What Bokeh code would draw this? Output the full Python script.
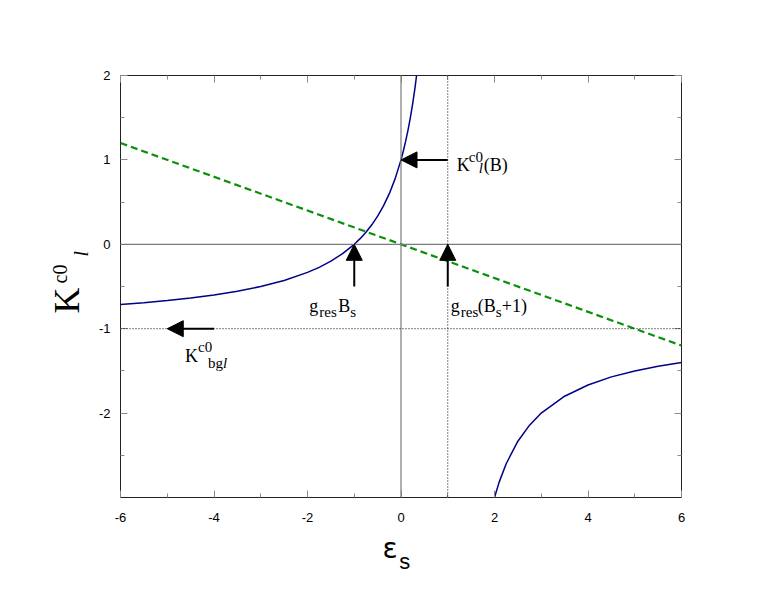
import math
from bokeh.plotting import figure
from bokeh.models import (ColumnDataSource, Arrow, NormalHead, Label, Span,
                          FixedTicker, LinearAxis, CustomJSTickFormatter, Range1d)
from bokeh.layouts import row, column
from bokeh.core.properties import value
from bokeh.embed import file_html
from bokeh.resources import INLINE

# ---------------- data ----------------
x_ticks = [-6, -4, -2, 0, 2, 4, 6]
x_minor = [-5, -3, -1, 1, 3, 5]
y_ticks = [-2, -1, 0, 1, 2]
y_minor = [-2.5, -1.5, -0.5, 0.5, 1.5]

# blue curve, left branch
left_x = [-6, -5.5, -5, -4.5, -4, -3.5, -3, -2.5, -2, -1.75, -1.5, -1.25, -1,
          -0.875, -0.75, -0.625, -0.5, -0.375, -0.25, -0.125, 0, 0.05, 0.1,
          0.15, 0.2, 0.25, 0.3, 0.333]
left_y = [-0.714, -0.692, -0.667, -0.636, -0.6, -0.556, -0.5, -0.429, -0.333,
          -0.273, -0.2, -0.111, 0, 0.067, 0.143, 0.231, 0.333, 0.455, 0.6,
          0.778, 1.0, 1.105, 1.222, 1.353, 1.5, 1.667, 1.857, 2.0]
# blue curve, right branch
right_x = [2, 2.1, 2.25, 2.5, 2.75, 3, 3.5, 4, 4.5, 5, 5.5, 6]
right_y = [-3.0, -2.818, -2.6, -2.333, -2.143, -2.0, -1.8, -1.667, -1.571,
           -1.5, -1.444, -1.4]
# green dashed line
green_x = [-6, 6]
green_y = [1.2, -1.2]
# reference lines
vline_x = 1
hline_y = -1
# arrows
arrow_x0 = [1, -1, 1, -4]
arrow_y0 = [1, -0.5, -0.5, -1]
arrow_x1 = [0, -1, 1, -5]
arrow_y1 = [1, 0, 0, -1]

X_RANGE = (-6, 6)
Y_RANGE = (-3, 2)

SERIF = "Liberation Serif"
SANS = "Liberation Sans"
TICK_COL = "#8a8a8a"

# ---------------- main plot ----------------
p = figure(width=666, height=528, output_backend="svg", toolbar_location=None,
           x_range=X_RANGE, y_range=Y_RANGE,
           min_border_left=30, min_border_right=75,
           min_border_top=75, min_border_bottom=31,
           background_fill_color="white", border_fill_color="white")
p.grid.visible = False
p.outline_line_color = "#222222"
p.outline_line_width = 1

fmt = CustomJSTickFormatter(code="return tick.toString()")
blank = CustomJSTickFormatter(code="return ''")


def style_axis(ax, ticks, minor, labels=True):
    ax.ticker = FixedTicker(ticks=ticks, minor_ticks=minor)
    ax.major_tick_in = 7
    ax.major_tick_out = 0
    ax.minor_tick_in = 4
    ax.minor_tick_out = 0
    ax.major_tick_line_color = TICK_COL
    ax.minor_tick_line_color = TICK_COL
    ax.axis_line_color = None
    ax.major_label_text_font = SANS
    ax.major_label_text_font_size = "13px"
    ax.major_label_text_color = "black"
    ax.formatter = fmt if labels else blank


style_axis(p.xaxis[0], x_ticks, x_minor)
p.xaxis[0].major_label_standoff = 15
style_axis(p.yaxis[0], y_ticks, y_minor)
p.yaxis[0].major_label_standoff = 10

top = LinearAxis()
style_axis(top, x_ticks, x_minor, labels=False)
p.add_layout(top, "above")
right = LinearAxis()
style_axis(right, y_ticks, y_minor, labels=False)
p.add_layout(right, "right")

# zero lines
p.add_layout(Span(location=0, dimension="height", line_color="#7a7a7a", line_width=1.2))
p.add_layout(Span(location=0, dimension="width", line_color="#7a7a7a", line_width=1.2))
# dotted lines
p.add_layout(Span(location=vline_x, dimension="height", line_color="black",
                  line_width=1, line_dash="1 2"))
p.add_layout(Span(location=hline_y, dimension="width", line_color="black",
                  line_width=1, line_dash="1 2"))

# green dashed
p.line(green_x, green_y, line_color="#0a900a", line_width=2.2, line_dash="7 4")
# blue curve
p.line(left_x, left_y, line_color="#000088", line_width=1.5)
p.line(right_x, right_y, line_color="#000088", line_width=1.5)

# arrows
asrc = ColumnDataSource(dict(x0=arrow_x0, y0=arrow_y0, x1=arrow_x1, y1=arrow_y1))
p.add_layout(Arrow(x_start="x0", y_start="y0", x_end="x1", y_end="y1", source=asrc,
                   line_width=2, line_color="black",
                   end=NormalHead(size=16, fill_color="black", line_color="black",
                                  line_width=1)))


def lbl(x, y, dx, dy, text, size, style="normal"):
    p.add_layout(Label(x=x, y=y, x_offset=dx, y_offset=dy, text=text,
                       text_font=SERIF, text_font_size=f"{size}px",
                       text_font_style=style, text_color="black",
                       text_align="left", text_baseline="alphabetic"))


MAIN, SUB = 18, 15
# K^c0_l(B) label near arrow tail (1, 1)
lbl(1, 1, 9, -5, "K", MAIN)
lbl(1, 1, 21, 3, "c0", SUB)
lbl(1, 1, 31, -8, "l", SUB, "italic")
lbl(1, 1, 36, -5, "(B)", MAIN)

# g_res B_s
lbl(-1, -0.5, -45, -19, "g", MAIN)
lbl(-1, -0.5, -35, -25, "res", SUB)
lbl(-1, -0.5, -16, -19, "B", MAIN)
lbl(-1, -0.5, -4, -25, "s", SUB)

# g_res(B_s+1)
lbl(1, -0.5, 3, -19, "g", MAIN)
lbl(1, -0.5, 13, -25, "res", SUB)
lbl(1, -0.5, 30, -19, "(B", MAIN)
lbl(1, -0.5, 48, -25, "s", SUB)
lbl(1, -0.5, 54, -19, "+1)", MAIN)

# K^c0_bgl
lbl(-4, -1, -29, -27, "K", MAIN)
lbl(-4, -1, -16, -18, "c0", SUB)
lbl(-4, -1, -6, -34, "bg", SUB)
lbl(-4, -1, 9, -34, "l", SUB, "italic")

# ---------------- y title (left strip) ----------------
LW, LH = 90, 580
yl = figure(width=LW, height=LH, output_backend="svg", toolbar_location=None,
            x_range=Range1d(0, LW), y_range=Range1d(0, LH),
            min_border=0, outline_line_color=None,
            background_fill_color="white", border_fill_color="white")
yl.axis.visible = False
yl.grid.visible = False
R = math.pi / 2
yl.text(x=[66], y=[LH - 313], text=["K"], angle=R, text_font=value(SERIF),
        text_font_size="36px", text_align="left", text_baseline="alphabetic",
        text_color="black")
yl.text(x=[59], y=[LH - 283], text=["c0"], angle=R, text_font=value(SERIF),
        text_font_size="20px", text_align="left", text_baseline="alphabetic",
        text_color="black")
yl.text(x=[80], y=[LH - 256], text=["l"], angle=R, text_font=value(SERIF),
        text_font_size="20px", text_font_style="italic", text_align="left",
        text_baseline="alphabetic", text_color="black")

# ---------------- x title (bottom strip) ----------------
BX0, BW, BH = 90, 666, 52
xl = figure(width=BW, height=BH, output_backend="svg", toolbar_location=None,
            x_range=Range1d(BX0, BX0 + BW), y_range=Range1d(0, BH),
            min_border=0, outline_line_color=None,
            background_fill_color="white", border_fill_color="white")
xl.axis.visible = False
xl.grid.visible = False
xl.text(x=[401], y=[32], text=["ε"], text_font=value("DejaVu Sans"),
        text_font_size="28px", text_align="left", text_baseline="alphabetic",
        text_color="black")
xl.text(x=[421], y=[19], text=["s"], text_font=value(SANS),
        text_font_size="22px", text_align="left", text_baseline="alphabetic",
        text_color="black")

layout = row(yl, column(p, xl))
open("out.html", "w").write(file_html(layout, INLINE))
